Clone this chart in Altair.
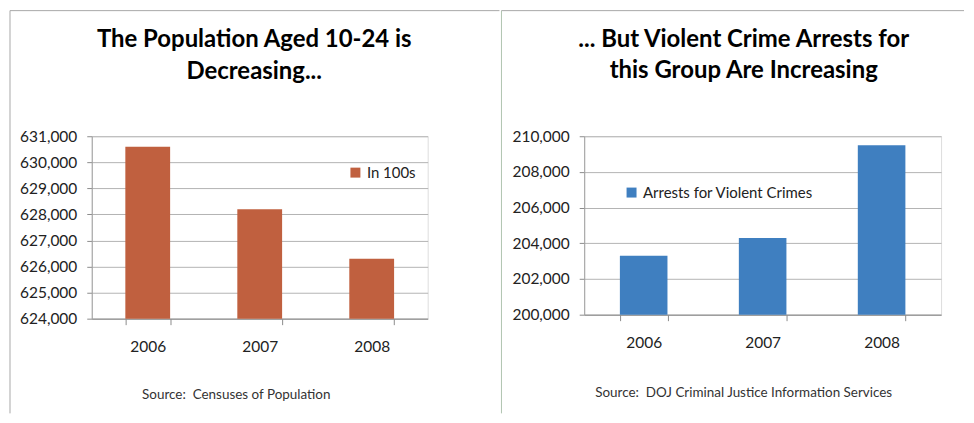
import altair as alt
import pandas as pd

years = ["2006", "2007", "2008"]
population = [630600, 628200, 626300]
arrests = [203300, 204300, 209500]

pop_ticks = [624000, 625000, 626000, 627000, 628000, 629000, 630000, 631000]
arr_ticks = [200000, 202000, 204000, 206000, 208000, 210000]

left_title = ["The Population Aged 10-24 is", "Decreasing..."]
right_title = ["... But Violent Crime Arrests for", "this Group Are Increasing"]
left_series = "In 100s"
right_series = "Arrests for Violent Crimes"
left_source = "Source:\u00a0 Censuses of Population"
right_source = "Source:\u00a0 DOJ Criminal Justice Information Services"

FONT = "Lato"
RED = "#C0603F"
BLUE = "#3F7FC0"
GRID = "#B4B4B4"
BORDER = "#A8A8A8"

one = pd.DataFrame({"k": [0]})


def panel(values, series, ticks, color, w, h, title, title_x, title_y,
          source, src_x, src_y, leg_x, leg_y, xpad, border):
    df = pd.DataFrame({"year": years, "value": values, "series": series})
    base = alt.Chart(df)
    bars = base.mark_bar().encode(
        x=alt.X("year:N",
                scale=alt.Scale(paddingInner=0.6, paddingOuter=0.3),
                axis=alt.Axis(title=None, labelAngle=0, tickBand="extent",
                              labelFont=FONT, labelFontSize=15.5, labelColor="#222222",
                              labelPadding=xpad, tickSize=6, tickColor="#8C8C8C",
                              domainColor="#8C8C8C", grid=False)),
        y=alt.Y("value:Q",
                scale=alt.Scale(domain=[ticks[0], ticks[-1]], nice=False, zero=False, clamp=True),
                axis=alt.Axis(title=None, values=ticks, format=",d",
                              labelFont=FONT, labelFontSize=15.5, labelColor="#222222",
                              labelPadding=10, tickSize=5, tickColor="#8C8C8C",
                              domainColor="#A0A0A0", grid=True, gridColor=GRID)),
        color=alt.Color("series:N", scale=alt.Scale(range=[color]),
                        legend=alt.Legend(title=None, orient="none", legendX=leg_x, legendY=leg_y,
                                          symbolType="square", symbolSize=100,
                                          symbolStrokeWidth=0, labelFont=FONT,
                                          labelFontSize=15, labelColor="#222222",
                                          labelOffset=4, padding=0, labelLimit=400)),
    )
    titles = [
        alt.Chart(one).mark_text(font=FONT, fontSize=24, fontWeight="bold", color="#000000",
                                 align="center", baseline="alphabetic").encode(
            x=alt.value(title_x), y=alt.value(ty), text=alt.value(t))
        for t, ty in zip(title, title_y)
    ]
    src = alt.Chart(one).mark_text(font=FONT, fontSize=13.5, color="#333333",
                                   align="center", baseline="middle").encode(
        x=alt.value(src_x), y=alt.value(src_y), text=alt.value(source))
    rules = [
        alt.Chart(one).mark_rule(color=c, strokeWidth=1).encode(
            x=alt.value(x1), x2=alt.value(x2), y=alt.value(y1), y2=alt.value(y2))
        for (x1, x2, y1, y2, c) in border
    ]
    return alt.layer(bars, *titles, src, *rules).properties(width=w, height=h)


left = panel(population, left_series, pop_ticks, RED, 337, 183, left_title, 163, [-90, -57],
             left_source, 145, 260, 257, 29, 15,
             [(-82, -82, -126, 278, BORDER), (-82, 409, -126, -126, BORDER)])
right = panel(arrests, right_series, arr_ticks, BLUE, 358, 179, right_title, 160, [-90, -58],
              right_source, 160, 258, 40, 49, 15,
              [(-83, -83, -126, 278, "#B0C4B0"), (-83, 381, -126, -126, BORDER)])

chart = alt.hconcat(left, right, spacing=0).resolve_scale(color="independent").resolve_legend(
    color="independent"
).properties(
    padding={"left": 1, "top": 1, "right": 1, "bottom": 1}
).configure_view(stroke=None).configure(background="white")

chart.save("out.html", embed_options={"renderer": "svg", "actions": False})
